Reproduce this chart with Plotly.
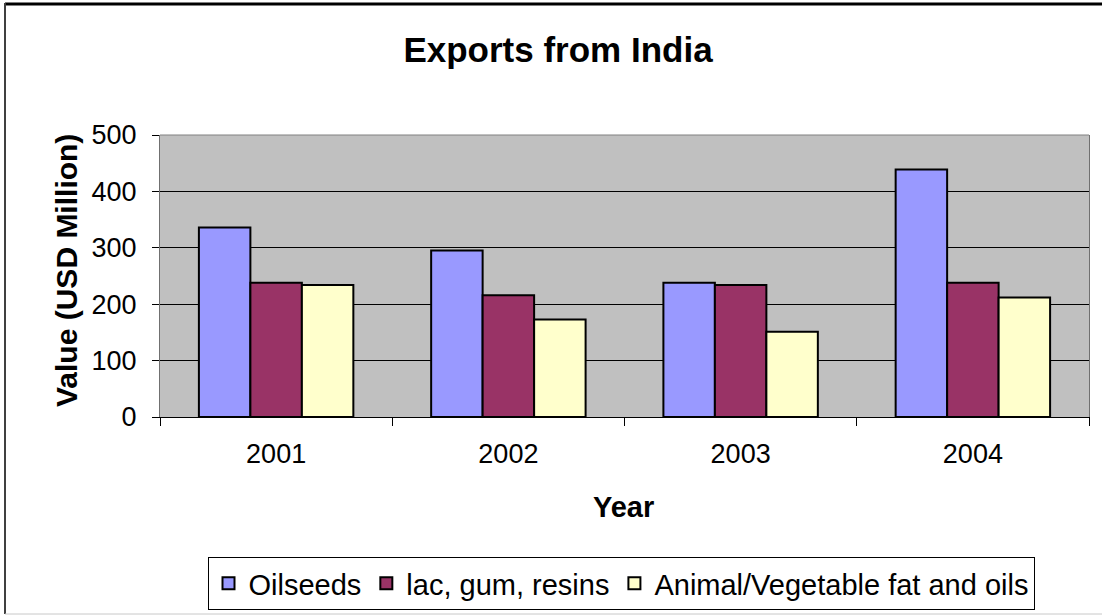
import plotly.graph_objects as go

# Export values by year (USD million)
years = ["2001", "2002", "2003", "2004"]
oilseeds = [336, 295, 238, 439]
lac_gum_resins = [238, 216, 234, 238]
animal_veg_fat = [234, 173, 151, 212]

series_names = ["Oilseeds", "lac, gum, resins", "Animal/Vegetable fat and oils"]
series_colors = ["#9999FF", "#993366", "#FFFFCC"]
y_ticks = [0, 100, 200, 300, 400, 500]

W, H = 1102, 615
L, R, T, B = 160, 13, 135, 198
pw, ph = W - L - R, H - T - B


def px_x(x):
    return (x - L) / pw


def px_y(y):
    return (H - B - y) / ph


FONT = "Liberation Sans, Arial, sans-serif"

fig = go.Figure()
for name, vals, col in zip(series_names, [oilseeds, lac_gum_resins, animal_veg_fat], series_colors):
    fig.add_trace(go.Bar(
        x=years, y=vals, name=name,
        marker=dict(color=col, line=dict(color="black", width=2)),
    ))

fig.update_layout(
    width=W, height=H,
    margin=dict(l=L, r=R, t=T, b=B, autoexpand=False),
    paper_bgcolor="white",
    plot_bgcolor="#C0C0C0",
    barmode="group",
    bargap=0.335,
    bargroupgap=0,
    font=dict(family=FONT, color="black", size=27),
    title=dict(
        text="<b>Exports from India</b>",
        x=558 / W, xanchor="center",
        y=1 - 50 / H, yanchor="middle",
        font=dict(size=35, family=FONT, color="black"),
    ),
    showlegend=True,
    legend=dict(
        orientation="h",
        x=px_x(621), xanchor="center",
        y=px_y(557), yanchor="top",
        bordercolor="black", borderwidth=1,
        bgcolor="white",
        font=dict(size=29, family=FONT),
        itemsizing="constant",
        itemwidth=30,
        traceorder="normal",
    ),
    xaxis=dict(
        type="category",
        showline=True, linecolor="black", linewidth=1,
        ticks="outside", ticklen=8, tickcolor="black", tickwidth=1,
        tickson="boundaries",
        ticklabelstandoff=13,
        showgrid=False,
        tickfont=dict(size=27),
    ),
    yaxis=dict(
        range=[0, 500],
        tickvals=y_ticks,
        showline=True, linecolor="#707070", linewidth=1, mirror=True,
        ticks="outside", ticklen=7, tickcolor="black", tickwidth=1,
        ticklabelstandoff=10,
        showgrid=True, gridcolor="black", gridwidth=1,
        zeroline=False,
        tickfont=dict(size=27),
    ),
    annotations=[
        dict(text="<b>Year</b>", xref="paper", yref="paper",
             x=px_x(623), y=px_y(507), xanchor="center", yanchor="middle",
             showarrow=False, font=dict(size=29, family=FONT)),
        dict(text="<b>Value (USD Million)</b>", xref="paper", yref="paper",
             x=px_x(66), y=px_y(271), xanchor="center", yanchor="middle",
             textangle=-90, showarrow=False, font=dict(size=30, family=FONT)),
    ],
    shapes=[
        # top edge of the plot area
        dict(type="line", xref="paper", yref="paper", x0=0, x1=1, y0=1, y1=1,
             line=dict(color="#808080", width=1), layer="above"),
        # outer chart frame
        dict(type="line", xref="paper", yref="paper",
             x0=px_x(5), x1=px_x(1110), y0=px_y(4), y1=px_y(4),
             line=dict(color="black", width=3)),
        dict(type="line", xref="paper", yref="paper",
             x0=px_x(5), x1=px_x(5), y0=px_y(3), y1=px_y(614),
             line=dict(color="#404040", width=2)),
        dict(type="line", xref="paper", yref="paper",
             x0=px_x(5), x1=px_x(1110), y0=px_y(614), y1=px_y(614),
             line=dict(color="#C8C8C8", width=1)),
    ],
)

fig.write_html("out.html")
